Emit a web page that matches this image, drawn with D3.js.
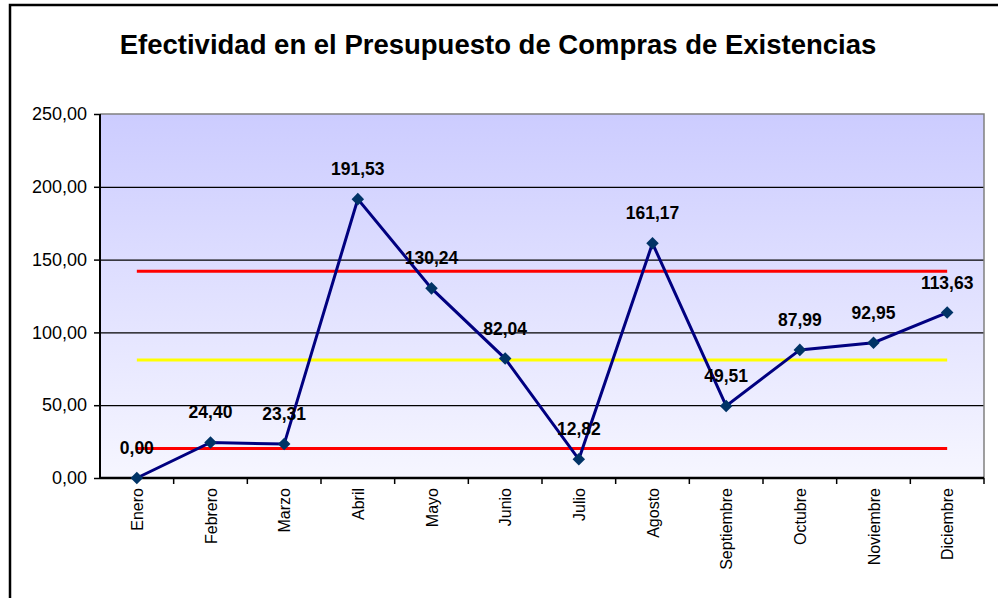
<!DOCTYPE html>
<html lang="es">
<head>
    <meta charset="UTF-8">
    <title>Efectividad en el Presupuesto de Compras de Existencias</title>
    <style>
        html, body { margin: 0; background: #fff; overflow: hidden; }
        svg { display: block; }
        text { font-family: "Liberation Sans", Arial, sans-serif; }
        .grid line { stroke: #000; stroke-width: 1.3; }
        .grid path { display: none; }
    </style>
</head>
<body>
<svg id="chart" width="998" height="598"></svg>

<script src="https://cdn.jsdelivr.net/npm/d3@7"></script>
<script>

    let months = ["Enero","Febrero","Marzo","Abril","Mayo","Junio","Julio","Agosto","Septiembre","Octubre","Noviembre","Diciembre"]
    let values = [0, 24.40, 23.31, 191.53, 130.24, 82.04, 12.82, 161.17, 49.51, 87.99, 92.95, 113.63]
    let yTicks = [0, 50, 100, 150, 200, 250]
    let meanLine = 81.0
    let limitLines = [142.0, 20.3]

    let svg = d3.select("#chart")

    // outer frame: only top and left edges are inside the window
    svg.append("path")
        .attr("d", "M10,598V5H998")
        .attr("fill", "none").attr("stroke", "#000").attr("stroke-width", 2.5)

    svg.append("text")
        .attr("x", 498).attr("y", 54)
        .attr("text-anchor", "middle")
        .style("font-size", "27.5px").style("font-weight", "bold")
        .text("Efectividad en el Presupuesto de Compras de Existencias")

    let plotL = 100, plotR = 984, plotT = 114, plotB = 478

    let x = d3.scaleBand().domain(months).range([plotL, plotR])
    let y = d3.scaleLinear().domain([0, 250]).range([plotB, plotT])

    let defs = svg.append("defs")
    let grad = defs.append("linearGradient").attr("id", "bg")
        .attr("x1", 0).attr("y1", 0).attr("x2", 0).attr("y2", 1)
    grad.append("stop").attr("offset", "0%").attr("stop-color", "#ccccff")
    grad.append("stop").attr("offset", "100%").attr("stop-color", "#f6f6ff")

    svg.append("rect")
        .attr("x", plotL).attr("y", plotT)
        .attr("width", plotR - plotL).attr("height", plotB - plotT)
        .attr("fill", "url(#bg)")

    // gridlines
    svg.append("g").attr("class", "grid")
        .attr("transform", "translate(" + plotL + ",0)")
        .call(d3.axisLeft(y).tickValues(yTicks.filter(d => d > 0 && d < 250)).tickSize(-(plotR - plotL)).tickFormat(""))

    // plot border top/right
    svg.append("path")
        .attr("d", "M" + plotL + "," + plotT + "H" + plotR + "V" + plotB)
        .attr("fill", "none").attr("stroke", "#808080").attr("stroke-width", 1.5)

    // control lines
    let first = x(months[0]) + x.bandwidth() / 2
    let last = x(months[months.length - 1]) + x.bandwidth() / 2

    limitLines.forEach(v => {
        svg.append("line")
            .attr("x1", first).attr("x2", last)
            .attr("y1", y(v)).attr("y2", y(v))
            .attr("stroke", "#ff0000").attr("stroke-width", 3)
    })
    svg.append("line")
        .attr("x1", first).attr("x2", last)
        .attr("y1", y(meanLine)).attr("y2", y(meanLine))
        .attr("stroke", "#ffff00").attr("stroke-width", 3)

    // y axis
    let yAxis = svg.append("g")
        .attr("transform", "translate(" + plotL + ",0)")
        .call(d3.axisLeft(y).tickValues(yTicks).tickSize(6).tickPadding(7)
            .tickFormat(d => d3.format(".2f")(d).replace(".", ",")))
    yAxis.select(".domain").attr("stroke", "#000").attr("stroke-width", 2).attr("d", "M0," + plotT + "V" + plotB)
    yAxis.selectAll(".tick line").attr("stroke", "#000").attr("stroke-width", 1.5)
    yAxis.selectAll("text").style("font-size", "18px").attr("fill", "#000")

    // x axis: ticks at category boundaries
    let xAxisG = svg.append("g").attr("transform", "translate(0," + plotB + ")")
    xAxisG.append("line")
        .attr("x1", plotL).attr("x2", plotR)
        .attr("stroke", "#000").attr("stroke-width", 2.5)
    xAxisG.selectAll(".bt")
        .data(months)
        .join("line")
        .attr("x1", d => x(d) + x.bandwidth()).attr("x2", d => x(d) + x.bandwidth())
        .attr("y1", 0).attr("y2", 6)
        .attr("stroke", "#000").attr("stroke-width", 1.5)
    xAxisG.selectAll(".lbl")
        .data(months)
        .join("text")
        .attr("transform", d => "translate(" + (x(d) + x.bandwidth() / 2 + 6) + ",10) rotate(-90)")
        .attr("text-anchor", "end")
        .style("font-size", "16px")
        .text(d => d)

    let pts = months.map((m, i) => ({ m: m, v: values[i] }))

    let valueLine = d3.line()
        .x(d => x(d.m) + x.bandwidth() / 2)
        .y(d => y(d.v))

    svg.append("path")
        .datum(pts)
        .attr("d", valueLine)
        .attr("fill", "none")
        .attr("stroke", "#000080")
        .attr("stroke-width", 3)

    svg.selectAll(".pt")
        .data(pts)
        .join("path")
        .attr("d", d3.symbol(d3.symbolDiamond2, 100))
        .attr("transform", d => "translate(" + (x(d.m) + x.bandwidth() / 2) + "," + y(d.v) + ")")
        .attr("fill", "#003366")

    svg.selectAll(".vl")
        .data(pts)
        .join("text")
        .attr("x", d => x(d.m) + x.bandwidth() / 2)
        .attr("y", d => y(d.v) - 24)
        .attr("text-anchor", "middle")
        .style("font-size", "17.5px").style("font-weight", "bold")
        .text(d => d3.format(".2f")(d.v).replace(".", ","))

</script>
</body>
</html>
